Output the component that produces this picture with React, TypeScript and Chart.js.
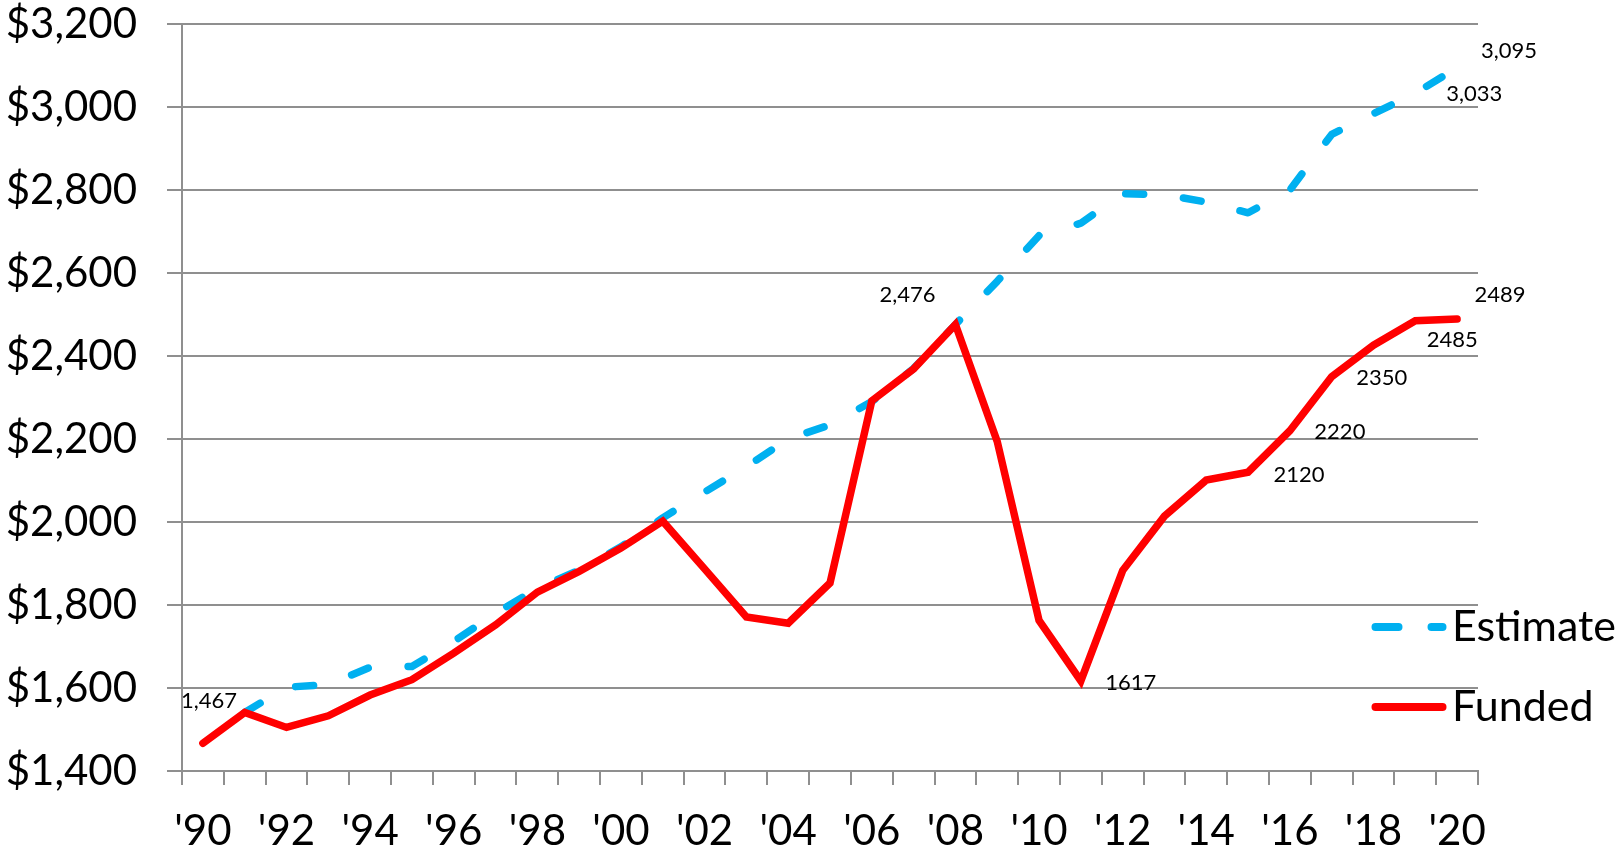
import React, { useEffect, useRef } from "react";
import { Chart, registerables } from "chart.js";

Chart.register(...registerables);

const categories = ["'90", "'91", "'92", "'93", "'94", "'95", "'96", "'97", "'98", "'99", "'00", "'01", "'02", "'03", "'04", "'05", "'06", "'07", "'08", "'09", "'10", "'11", "'12", "'13", "'14", "'15", "'16", "'17", "'18", "'19", "'20"];

const estimate = [null, 1541, 1602, 1608, 1650, 1652, 1712, 1780, 1840, 1884, 1940, 2010, 2072, 2133, 2200, 2234, 2290, 2370, 2476, 2580, 2690, 2720, 2791, 2789, 2771, 2745, 2800, 2934, 2984, 3033, 3095];

const funded = [1467, 1541, 1505, 1533, 1583, 1620, 1684, 1752, 1831, 1881, 1937, 2002, 1887, 1771, 1756, 1853, 2292, 2369, 2476, 2194, 1763, 1617, 1883, 2014, 2101, 2120, 2220, 2350, 2426, 2485, 2489];

const yMin = 1400;
const yMax = 3200;
const yStep = 200;

// which points get a value label (dataset index, point index, comma formatting)
const labelledPoints = [
  { ds: 0, i: 30, comma: true },
  { ds: 0, i: 29, comma: true },
  { ds: 1, i: 0, comma: true },
  { ds: 1, i: 18, comma: true },
  { ds: 1, i: 21, comma: false },
  { ds: 1, i: 25, comma: false },
  { ds: 1, i: 26, comma: false },
  { ds: 1, i: 27, comma: false },
  { ds: 1, i: 29, comma: false },
  { ds: 1, i: 30, comma: false },
];

// label placement offsets (style, kept apart from data)
const labelOffsets: Record<string, [number, number]> = {
  "0-30": [52, -17],
  "0-29": [59, 1],
  "1-0": [6, -42],
  "1-18": [-48, -30],
  "1-21": [50, 2],
  "1-25": [51, 3],
  "1-26": [50, 1],
  "1-27": [50, 1],
  "1-29": [37, 19],
  "1-30": [43, -24],
};

const FONT = "Lato, 'Open Sans', sans-serif";
const BLUE = "#00B0F0";
const RED = "#FF0000";
const GRID = "#8f8f8f";

const valueLabelPlugin = {
  id: "valueLabels",
  afterDatasetsDraw(chart: any) {
    const ctx = chart.ctx;
    ctx.save();
    ctx.font = `22px ${FONT}`;
    ctx.fillStyle = "#000";
    ctx.textAlign = "center";
    ctx.textBaseline = "middle";
    labelledPoints.forEach((lp) => {
      const meta = chart.getDatasetMeta(lp.ds);
      const el = meta.data[lp.i];
      if (!el) return;
      const v = chart.data.datasets[lp.ds].data[lp.i] as number;
      const txt = lp.comma ? v.toLocaleString("en-US") : String(v);
      const off = labelOffsets[`${lp.ds}-${lp.i}`] || [0, 0];
      ctx.fillText(txt, el.x + off[0], el.y + off[1]);
    });
    ctx.restore();
  },
};

const legendPlugin = {
  id: "customLegend",
  afterDraw(chart: any) {
    const ctx = chart.ctx;
    const rows = [
      { ds: 0, y: 627 },
      { ds: 1, y: 707 },
    ];
    ctx.save();
    rows.forEach((r) => {
      const d = chart.data.datasets[r.ds];
      ctx.beginPath();
      ctx.lineWidth = 8;
      ctx.lineCap = "round";
      ctx.strokeStyle = d.borderColor;
      ctx.setLineDash(d.borderDash && d.borderDash.length ? [23, 33] : []);
      ctx.moveTo(1375.5, r.y);
      ctx.lineTo(1442.5, r.y);
      ctx.stroke();
      ctx.setLineDash([]);
      ctx.font = `43px ${FONT}`;
      ctx.fillStyle = "#000";
      ctx.textAlign = "left";
      ctx.textBaseline = "middle";
      ctx.fillText(d.label, 1452, r.y);
    });
    ctx.restore();
  },
};

export default function App() {
  const ref = useRef<HTMLCanvasElement | null>(null);

  useEffect(() => {
    if (!ref.current) return;
    const chart = new Chart(ref.current, {
      type: "line",
      data: {
        labels: categories,
        datasets: [
          {
            label: "Estimate",
            data: estimate,
            borderColor: BLUE,
            backgroundColor: BLUE,
            borderWidth: 7.5,
            borderDash: [18, 40],
            borderCapStyle: "round",
            borderJoinStyle: "round",
            pointRadius: 0,
            tension: 0,
            order: 1,
            spanGaps: false,
          },
          {
            label: "Funded",
            data: funded,
            borderColor: RED,
            backgroundColor: RED,
            borderWidth: 7.5,
            borderCapStyle: "round",
            borderJoinStyle: "miter",
            pointRadius: 0,
            tension: 0,
            order: 0,
          },
        ],
      },
      options: {
        animation: false,
        responsive: false,
        devicePixelRatio: 1,
        layout: { padding: { left: 0, right: 143, top: 24, bottom: 0 } },
        plugins: {
          legend: { display: false },
          tooltip: { enabled: false },
        },
        scales: {
          x: {
            type: "category",
            offset: true,
            afterFit: (s: any) => {
              s.height = 85;
              s.paddingLeft = 0;
              s.paddingRight = 0;
            },
            grid: {
              offset: true,
              drawOnChartArea: false,
              drawTicks: true,
              tickLength: 14,
              color: GRID,
              lineWidth: 2,
            },
            border: { display: true, color: GRID, width: 2 },
            ticks: {
              autoSkip: false,
              maxRotation: 0,
              minRotation: 0,
              padding: 21,
              color: "#000",
              font: { family: FONT, size: 42 },
              callback: (_v: any, idx: number) => (idx % 2 === 0 ? categories[idx] : ""),
            },
          },
          y: {
            min: yMin,
            max: yMax,
            afterFit: (s: any) => {
              s.width = 182;
              s.paddingTop = 0;
              s.paddingBottom = 0;
            },
            grid: {
              drawTicks: true,
              tickLength: 15,
              color: GRID,
              lineWidth: 2,
            },
            border: { display: true, color: GRID, width: 2 },
            ticks: {
              stepSize: yStep,
              padding: 30,
              color: "#000",
              font: { family: FONT, size: 42 },
              callback: (v: any) => "$" + Number(v).toLocaleString("en-US"),
            },
          },
        },
      },
      plugins: [valueLabelPlugin, legendPlugin],
    } as any);
    return () => chart.destroy();
  }, []);

  return (
    <div style={{ position: "absolute", left: 0, top: 0, width: 1621, height: 856, background: "#fff" }}>
      <canvas ref={ref} width={1621} height={856} style={{ display: "block", width: 1621, height: 856 }} />
    </div>
  );
}
